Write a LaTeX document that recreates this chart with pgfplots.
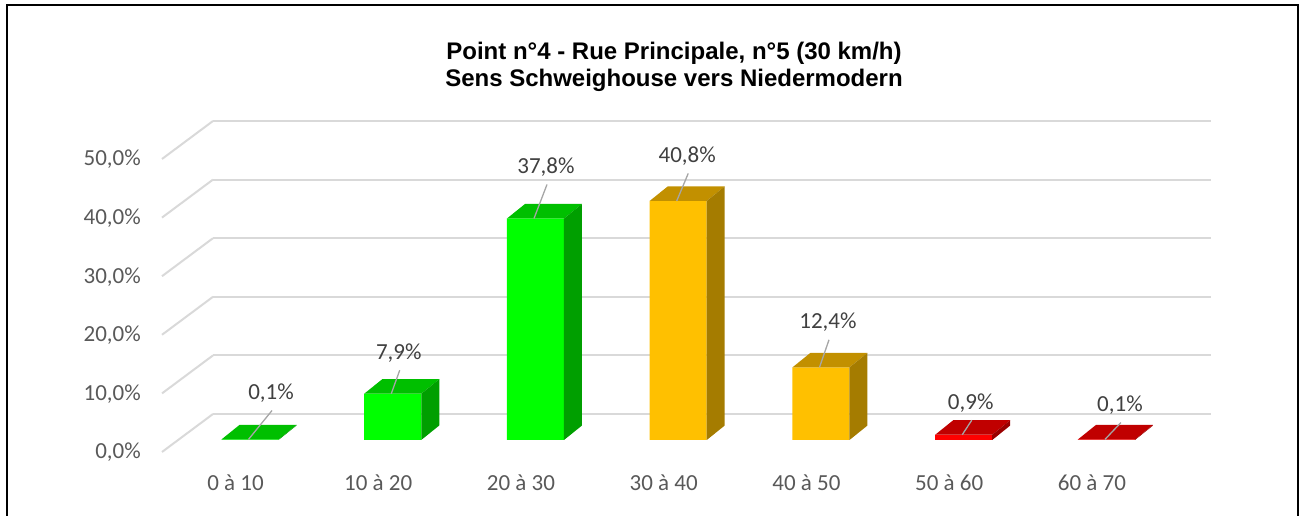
\documentclass[border=0pt]{standalone}
\usepackage{fontspec}
\setmainfont{Carlito}
\newfontfamily\titlefont{Liberation Sans}
\usepackage{pgfplots}
\usepackage{pgfplotstable}
\pgfplotsset{compat=1.18}

\definecolor{gridc}{HTML}{D9D9D9}
\definecolor{tickc}{HTML}{595959}
\definecolor{labc}{HTML}{404040}
\definecolor{leadc}{HTML}{A6A6A6}
\definecolor{gfront}{HTML}{00FF00}
\definecolor{gtop}{HTML}{00BF00}
\definecolor{gside}{HTML}{009F00}
\definecolor{yfront}{HTML}{FFC000}
\definecolor{ytop}{HTML}{C29000}
\definecolor{yside}{HTML}{A57C00}
\definecolor{rfront}{HTML}{FF0000}
\definecolor{rtop}{HTML}{C00000}
\definecolor{rside}{HTML}{9A0000}

% k = category index, v = value (%), lx/ly = label offset (pt)
\pgfplotstableread{
k v lx ly
0 0.1 21 46.4
1 7.9 6 41
2 37.8 10.5 51.5
}\greentab
\pgfplotstableread{
k v lx ly
3 40.8 9 45
4 12.4 7 45
}\yellowtab
\pgfplotstableread{
k v lx ly
5 0.9 7 32
6 0.1 13.5 34.4
}\redtab

\pgfplotsset{
  front/.style={ybar, bar width=57pt, bar shift=0pt, draw=none, fill=#1,
    visualization depends on={\thisrow{lx} \as \labx},
    visualization depends on={\thisrow{ly} \as \laby},
    nodes near coords={\pgfmathprintnumber[fixed,fixed zerofill,precision=1,use comma,assume math mode=true]{\pgfplotspointmeta}\%},
    every node near coord/.append style={anchor=center, inner sep=0pt, xshift=\labx pt, yshift=\laby pt, text=labc, font=\fontsize{23}{27}\selectfont},
  },
}

% top face, side face and leader line of each bar, from the table rows
\newcommand\boxfaces[4]{% #1 table, #2 last row, #3 top colour, #4 side colour
  \pgfplotsforeachungrouped \r in {0,...,#2}{%
    \pgfplotstablegetelem{\r}{k}\of#1\let\kk\pgfplotsretval
    \pgfplotstablegetelem{\r}{v}\of#1\let\vv\pgfplotsretval
    \pgfplotstablegetelem{\r}{lx}\of#1\let\lxx\pgfplotsretval
    \pgfplotstablegetelem{\r}{ly}\of#1\let\lyy\pgfplotsretval
    \edef\tmp{%
      \noexpand\fill[#3] ([xshift=-28.5pt]axis cs:\kk,\vv) -- ([xshift=28.5pt]axis cs:\kk,\vv) -- ([shift={(46.5pt,14.5pt)}]axis cs:\kk,\vv) -- ([shift={(-10.5pt,14.5pt)}]axis cs:\kk,\vv) -- cycle;
      \noexpand\fill[#4] ([xshift=28.5pt]axis cs:\kk,\vv) -- ([shift={(46.5pt,14.5pt)}]axis cs:\kk,\vv) -- ([shift={(46.5pt,14.5pt)}]axis cs:\kk,0) -- ([xshift=28.5pt]axis cs:\kk,0) -- cycle;
      \noexpand\draw[leadc, line width=1.3pt] ([xshift=-1.5pt]axis cs:\kk,\vv) -- ([shift={({\lxx pt+1pt},{\lyy pt-17.5pt})}]axis cs:\kk,\vv);
    }\tmp
  }%
}

\begin{document}
\begin{tikzpicture}
\useasboundingbox (0,0) rectangle (1304pt,516pt);
\draw[line width=2pt] (7pt,-5pt) -- (7pt,510.5pt) -- (1297.5pt,510.5pt) -- (1297.5pt,-5pt);
\node[anchor=base, inner sep=0pt, font=\titlefont\bfseries\fontsize{24}{28}\selectfont] at (674pt,456.7pt) {Point n°4 - Rue Principale, n°5 (30 km/h)};
\node[anchor=base, inner sep=0pt, font=\titlefont\bfseries\fontsize{24}{28}\selectfont] at (674pt,429pt) {Sens Schweighouse vers Niedermodern};
\begin{axis}[
  at={(178pt,76pt)}, anchor=south west, scale only axis,
  width=998pt, height=293pt,
  xmin=-0.5044, xmax=6.487, ymin=0, ymax=50,
  clip=false,
  axis line style={draw=none}, major tick style={draw=none},
  ytick={0,10,...,50}, xtick={0,...,6},
  xticklabels={0 à 10,10 à 20,20 à 30,30 à 40,40 à 50,50 à 60,60 à 70},
  ymajorgrids, major grid style={gridc, line width=2pt, xshift=35pt, yshift=26pt},
  yticklabel={\pgfmathprintnumber[fixed,fixed zerofill,precision=1,use comma,assume math mode=true]{\tick}\%},
  yticklabel style={anchor=east, inner sep=0pt, xshift=-37pt, yshift=-12.5pt, text=tickc, font=\fontsize{23}{27}\selectfont},
  xticklabel style={anchor=center, inner sep=0pt, xshift=-14.5pt, yshift=-43pt, text=tickc, font=\fontsize{23}{27}\selectfont},
]
\pgfplotsinvokeforeach{0,10,20,30,40,50}{
  \draw[gridc, line width=2pt] ([shift={(-16pt,-12pt)}]axis cs:-0.5044,#1) -- ([shift={(35pt,26pt)}]axis cs:-0.5044,#1);
}
\addplot[front=gfront] table[x=k,y=v] {\greentab};
\addplot[front=yfront] table[x=k,y=v] {\yellowtab};
\addplot[front=rfront] table[x=k,y=v] {\redtab};
\boxfaces{\greentab}{2}{gtop}{gside}
\boxfaces{\yellowtab}{1}{ytop}{yside}
\boxfaces{\redtab}{1}{rtop}{rside}
\end{axis}
\end{tikzpicture}
\end{document}
